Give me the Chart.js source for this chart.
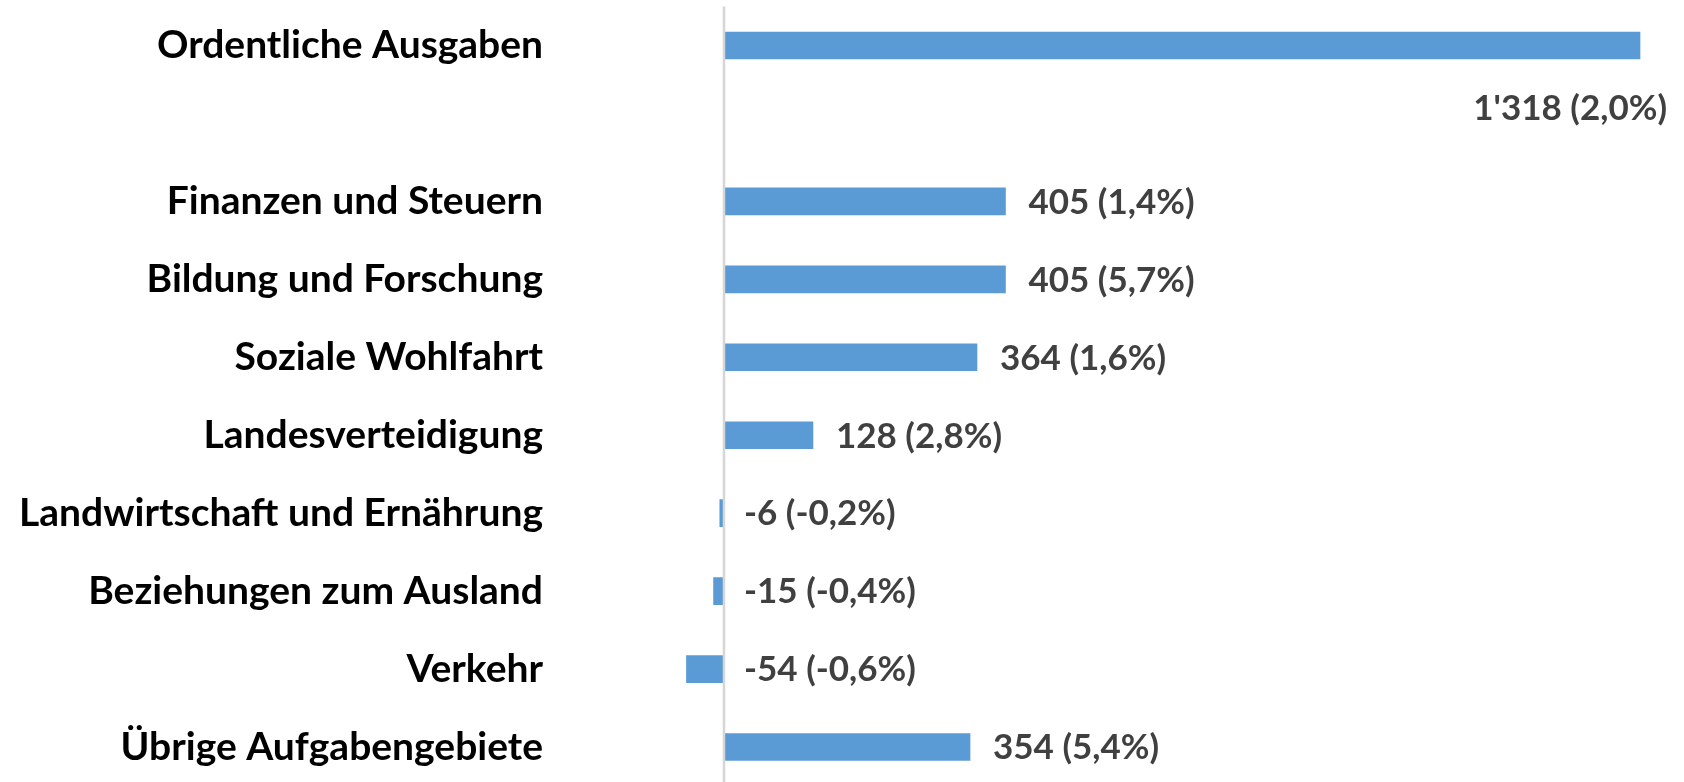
<!DOCTYPE html>
<html>
<head>
    <title>Ausgaben nach Aufgabengebieten</title>
    <script src="https://cdn.jsdelivr.net/npm/chart.js"></script>
    <style>
        body {
            margin: 0;
            padding: 0;
            background-color: #fff;
            overflow: hidden;
        }

        #wrap {
            width: 1684px;
            height: 786px;
        }
    </style>
</head>
<body>
    <div id="wrap"><canvas id="myChart"></canvas></div>

    <script>
        // Kategorien (die leere Zeile nimmt das Label der ersten Balken auf)
        var kategorien = [
            'Ordentliche Ausgaben',
            '',
            'Finanzen und Steuern',
            'Bildung und Forschung',
            'Soziale Wohlfahrt',
            'Landesverteidigung',
            'Landwirtschaft und Ernährung',
            'Beziehungen zum Ausland',
            'Verkehr',
            'Übrige Aufgabengebiete'
        ];
        var veraenderung = [1318, null, 405, 405, 364, 128, -6, -15, -54, 354];
        var prozent = ['2,0', '', '1,4', '5,7', '1,6', '2,8', '-0,2', '-0,4', '-0,6', '5,4'];

        var blau = '#5b9bd5';
        var schrift = 'Lato, "Open Sans", sans-serif';

        function formatZahl(v) {
            return String(v).replace(/\B(?=(\d{3})+(?!\d))/g, "'");
        }

        // Nulllinie und Beschriftungen der Balken
        var labelPlugin = {
            id: 'labels',
            afterDatasetsDraw: function(chart) {
                var ctx = chart.ctx;
                var area = chart.chartArea;
                var x0 = chart.scales.x.getPixelForValue(0);

                ctx.save();
                ctx.strokeStyle = '#d6d6d6';
                ctx.lineWidth = 2.5;
                ctx.beginPath();
                ctx.moveTo(x0, area.top);
                ctx.lineTo(x0, area.bottom);
                ctx.stroke();

                ctx.font = 'bold 35px ' + schrift;
                ctx.fillStyle = '#404040';
                ctx.textBaseline = 'middle';
                var meta = chart.getDatasetMeta(0);
                meta.data.forEach(function(bar, i) {
                    var v = veraenderung[i];
                    if (v === null) return;
                    var text = formatZahl(v) + ' (' + prozent[i] + '%)';
                    var w = ctx.measureText(text).width;
                    if (v < 0) {
                        ctx.textAlign = 'left';
                        ctx.fillText(text, x0 + 20, bar.y + 1);
                    } else if (bar.x + 23 + w > area.right) {
                        ctx.textAlign = 'right';
                        ctx.fillText(text, bar.x + 27, bar.y + 63);
                    } else {
                        ctx.textAlign = 'left';
                        ctx.fillText(text, bar.x + 23, bar.y + 1);
                    }
                });
                ctx.restore();
            }
        };

        var ctx = document.getElementById('myChart').getContext('2d');
        var myChart = new Chart(ctx, {
            type: 'bar',
            data: {
                labels: kategorien,
                datasets: [{
                    data: veraenderung,
                    backgroundColor: blau,
                    barThickness: 27
                }]
            },
            options: {
                indexAxis: 'y',
                responsive: true,
                maintainAspectRatio: false,
                animation: false,
                layout: {
                    padding: { top: 6.5, left: 0, right: 0, bottom: 0 }
                },
                plugins: {
                    legend: { display: false },
                    tooltip: { enabled: false }
                },
                scales: {
                    x: {
                        display: false,
                        min: -178.4,
                        max: 1381.3
                    },
                    y: {
                        afterFit: function(scale) {
                            scale.width = 600;
                            scale.paddingTop = 0;
                            scale.paddingBottom = 0;
                        },
                        grid: { display: false, drawTicks: false },
                        border: { display: false },
                        ticks: {
                            color: '#000',
                            padding: 57,
                            font: { family: schrift, size: 39, weight: 'bold' }
                        }
                    }
                }
            },
            plugins: [labelPlugin]
        });
    </script>
</body>
</html>
